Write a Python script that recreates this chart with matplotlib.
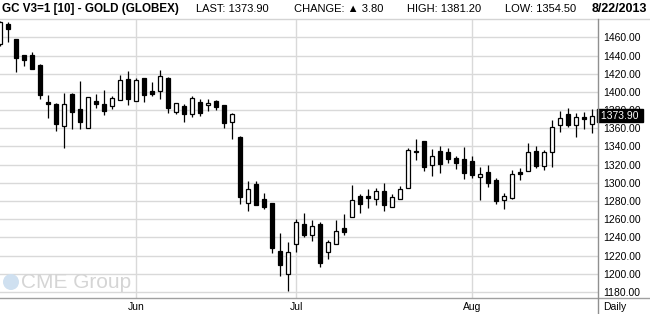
import matplotlib
matplotlib.use('Agg')
import matplotlib.pyplot as plt
from matplotlib.lines import Line2D
from matplotlib.patches import Ellipse
import numpy as np
import pandas as pd

W, H = 650, 314

# trading days May 8 - Aug 22 2013 (closed Memorial Day and Jul 4)
dates = pd.bdate_range('2013-05-08', '2013-08-22')
dates = dates[~dates.isin(pd.to_datetime(['2013-05-27', '2013-07-04']))]

opens = [1452.3, 1474.7, 1458.2, 1440.6, 1440.6, 1429.6, 1388.5, 1386.3, 1362.2, 1397.7,
         1380.8, 1360.0, 1390.0, 1386.3, 1384.1, 1390.7, 1413.8, 1389.6, 1415.3, 1400.6,
         1401.4, 1415.3, 1378.3, 1384.1, 1375.4, 1388.5, 1385.2, 1389.6, 1385.2, 1367.3,
         1350.1, 1278.2, 1298.4, 1282.3, 1277.5, 1225.1, 1199.5, 1233.2, 1254.4, 1242.3,
         1254.8, 1223.7, 1232.4, 1250.0, 1262.9, 1285.2, 1285.2, 1281.9, 1291.1, 1273.1,
         1281.9, 1294.7, 1335.0, 1345.7, 1319.3, 1334.7, 1334.0, 1327.0, 1325.9, 1324.1,
         1306.8, 1312.0, 1303.2, 1280.8, 1283.7, 1312.0, 1312.7, 1335.0, 1318.9, 1333.6,
         1363.3, 1375.7, 1363.3, 1371.9, 1364.7]
highs = [1478.0, 1477.2, 1458.5, 1440.9, 1443.9, 1430.7, 1396.6, 1387.4, 1398.4, 1398.8,
         1412.0, 1394.0, 1397.3, 1401.7, 1395.5, 1418.2, 1423.0, 1415.7, 1415.3, 1410.9,
         1424.1, 1416.4, 1387.4, 1386.3, 1395.5, 1391.8, 1391.8, 1390.7, 1385.6, 1376.5,
         1351.5, 1302.1, 1302.1, 1288.5, 1277.5, 1244.5, 1234.6, 1260.3, 1266.9, 1258.8,
         1256.6, 1236.8, 1259.2, 1265.8, 1297.7, 1287.8, 1293.6, 1294.4, 1299.5, 1287.4,
         1296.2, 1338.7, 1348.2, 1345.7, 1336.9, 1340.2, 1338.3, 1329.2, 1339.1, 1329.2,
         1317.1, 1319.3, 1305.4, 1288.9, 1314.5, 1316.4, 1343.8, 1340.2, 1336.1, 1368.8,
         1379.0, 1382.3, 1376.8, 1377.6, 1381.2]
lows = [1450.0, 1455.2, 1422.3, 1428.5, 1424.8, 1391.8, 1371.7, 1357.4, 1338.7, 1359.6,
        1359.6, 1360.0, 1382.7, 1375.0, 1381.6, 1390.7, 1385.2, 1389.6, 1389.3, 1395.9,
        1392.6, 1377.2, 1375.7, 1367.3, 1372.8, 1373.9, 1379.4, 1380.5, 1360.7, 1348.6,
        1276.4, 1268.7, 1276.0, 1271.7, 1223.3, 1198.0, 1181.1, 1224.4, 1240.1, 1236.5,
        1207.9, 1216.7, 1232.4, 1242.7, 1262.9, 1266.9, 1272.8, 1275.7, 1269.5, 1273.1,
        1281.9, 1294.7, 1325.5, 1313.4, 1307.9, 1311.2, 1322.2, 1315.6, 1303.9, 1305.7,
        1281.2, 1295.5, 1276.8, 1271.7, 1281.9, 1303.5, 1312.7, 1316.7, 1314.5, 1317.8,
        1356.3, 1361.8, 1350.8, 1358.9, 1354.5]
closes = [1476.5, 1469.5, 1437.6, 1435.4, 1425.6, 1397.0, 1387.1, 1365.1, 1386.3, 1378.3,
          1367.3, 1394.0, 1387.1, 1379.4, 1393.3, 1412.7, 1392.6, 1412.7, 1397.0, 1398.1,
          1417.1, 1382.7, 1387.4, 1376.1, 1392.9, 1377.2, 1388.2, 1383.0, 1366.2, 1375.4,
          1284.8, 1293.3, 1276.0, 1273.9, 1228.8, 1210.1, 1223.7, 1256.6, 1243.1, 1252.2,
          1212.3, 1235.4, 1246.7, 1246.4, 1280.8, 1277.1, 1283.0, 1290.7, 1276.0, 1284.1,
          1292.9, 1335.8, 1333.6, 1317.8, 1329.2, 1320.4, 1326.6, 1322.2, 1311.2, 1309.0,
          1309.4, 1300.2, 1280.4, 1285.2, 1309.4, 1310.1, 1334.0, 1318.9, 1334.0, 1361.1,
          1371.3, 1364.0, 1372.4, 1370.1, 1373.9]

month_labels = ['Jun', 'Jul', 'Aug']
price_ticks = list(range(1180, 1461, 20))
last_price = 1373.90

fig = plt.figure(figsize=(W / 100, H / 100), dpi=100)
ax = fig.add_axes([0, 16 / H, 598 / W, 279 / H])

x = np.arange(len(dates))
o, hi, lo, c = (np.array(v) for v in (opens, highs, lows, closes))
up = c >= o

ax.vlines(x, lo, hi, color='black', lw=0.9, zorder=2)
mid = (o + c) / 2
ht = np.maximum(np.abs(c - o), 1.3)
bot = mid - ht / 2
ax.bar(x[up], ht[up], bottom=bot[up], width=0.62, facecolor='white',
       edgecolor='black', lw=0.9, zorder=3)
ax.bar(x[~up], ht[~up], bottom=bot[~up], width=0.62, facecolor='black',
       edgecolor='black', lw=0.9, zorder=3)

month_pos = [int(np.argmax(dates.month == m)) for m in (6, 7, 8)]
ax.set_xticks(month_pos)
ax.set_xticklabels(month_labels, fontsize=7.5, family='Liberation Sans')
ax.set_yticks(price_ticks)
ax.set_yticklabels(['%.2f' % v for v in price_ticks], fontsize=7.5,
                   family='Liberation Sans')
ax.yaxis.tick_right()
ax.tick_params(axis='both', length=0)
ax.tick_params(axis='y', pad=4)
ax.tick_params(axis='x', pad=3)
ax.grid(color='#d9d9d9', lw=1)
ax.set_axisbelow(True)
ax.set_xlim(0, 74.75)
ax.set_ylim(1173.45, 1480.15)
for s in ax.spines.values():
    s.set_visible(False)

# last price box
ax.text(1.0, last_price, ' %.2f ' % last_price, transform=ax.get_yaxis_transform(),
        color='white', fontsize=7.5, family='Liberation Sans', va='center', ha='left',
        bbox=dict(facecolor='black', edgecolor='black', pad=1.0), zorder=6, clip_on=False)

# frame lines
fig.add_artist(Line2D([0, 1], [1 - 19 / H] * 2, color='#d4d4d4', lw=1))
fig.add_artist(Line2D([0, 1], [1 - 298 / H] * 2, color='#a0a0a0', lw=1))
fig.add_artist(Line2D([598 / W] * 2, [0, 1 - 19 / H], color='#909090', lw=1))

# header
fig.text(2 / W, 1 - 9 / H, 'GC V3=1 [10] - GOLD (GLOBEX)', fontsize=8.4, weight='bold',
         family='Liberation Sans', va='center')
hdr = dict(fontsize=8, family=['Liberation Sans', 'DejaVu Sans'], va='center')
fig.text(196 / W, 1 - 9 / H, 'LAST: 1373.90', **hdr)
fig.text(294 / W, 1 - 9 / H, 'CHANGE: \u25b2 3.80', **hdr)
fig.text(407 / W, 1 - 9 / H, 'HIGH: 1381.20', **hdr)
fig.text(505 / W, 1 - 9 / H, 'LOW: 1354.50', **hdr)
fig.text(647 / W, 1 - 9 / H, '8/22/2013', fontsize=9, weight='bold',
         family='Liberation Sans', va='center', ha='right')
fig.text(603 / W, 1 - 307 / H, 'Daily', fontsize=7.5, family='Liberation Sans', va='center')

# watermark
fig.add_artist(Ellipse((11 / W, 1 - 282 / H), 16 / W, 16 / H, transform=fig.transFigure,
                       facecolor='#cfe0f0', edgecolor='none'))
fig.text(21 / W, 1 - 282 / H, 'CME Group', fontsize=15, color='#d5d5d5',
         family='Liberation Sans', va='center')

fig.savefig('out.png', dpi=100)
